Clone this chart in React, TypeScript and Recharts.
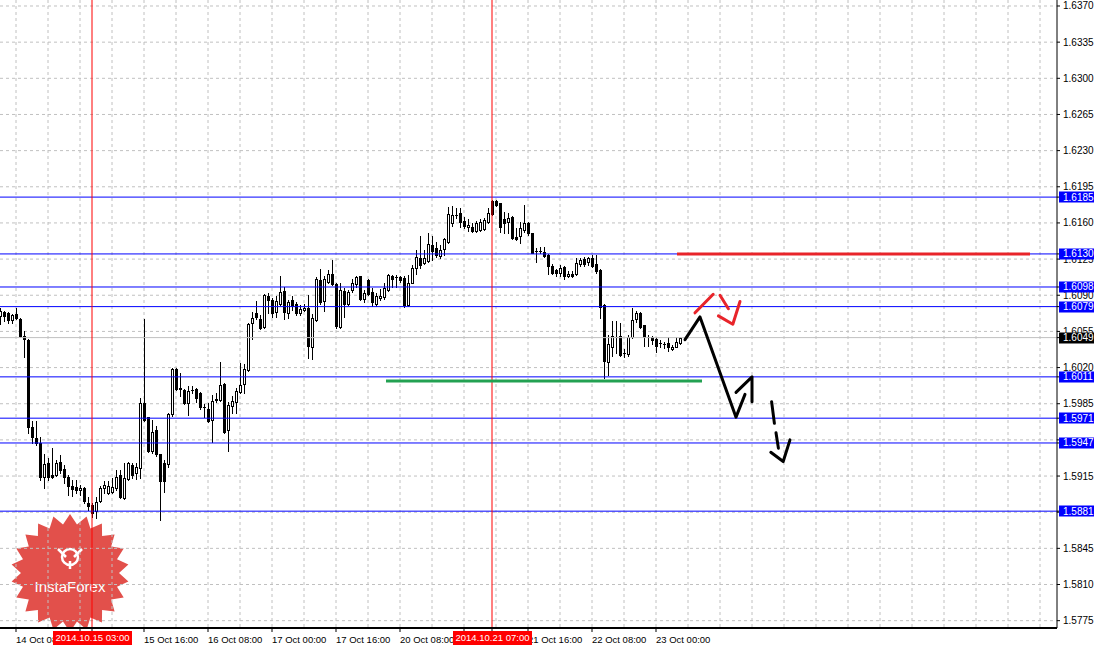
import React from 'react'
import {
  ComposedChart,
  Bar,
  Line,
  XAxis,
  YAxis,
  CartesianGrid,
  ReferenceLine,
} from 'recharts'

// hourly GBP/USD candles, bar index 0 = left edge of the chart
const opens = [
  1.6070, 1.6074, 1.6073, 1.6066, 1.6072, 1.6067, 1.6051, 1.6047, 1.5962, 1.5952,
  1.5947, 1.5914, 1.5928, 1.5916, 1.5916, 1.5929, 1.5922, 1.5914, 1.5905, 1.5904,
  1.5901, 1.5903, 1.5889, 1.5887, 1.5881, 1.5891, 1.5903, 1.5899, 1.5900, 1.5903,
  1.5916, 1.5894, 1.5912, 1.5926, 1.5918, 1.5923, 1.5986, 1.5972, 1.5939, 1.5960,
  1.5936, 1.5928, 1.5927, 1.5975, 1.6019, 1.6000, 1.5998, 1.5986, 1.5998, 1.5999,
  1.5995, 1.5982, 1.5980, 1.5969, 1.5990, 1.5989, 1.6004, 1.5960, 1.5983, 1.5987,
  1.5996, 1.6004, 1.6018, 1.6063, 1.6073, 1.6067, 1.6059, 1.6089, 1.6085, 1.6074,
  1.6082, 1.6094, 1.6073, 1.6085, 1.6082, 1.6073, 1.6076, 1.6078, 1.6040, 1.6066,
  1.6105, 1.6084, 1.6103, 1.6111, 1.6101, 1.6059, 1.6094, 1.6082, 1.6095, 1.6101,
  1.6109, 1.6086, 1.6105, 1.6093, 1.6082, 1.6087, 1.6088, 1.6095, 1.6109, 1.6108,
  1.6108, 1.6107, 1.6081, 1.6102, 1.6116, 1.6126, 1.6121, 1.6123, 1.6139, 1.6136,
  1.6128, 1.6135, 1.6142, 1.6160, 1.6168, 1.6170, 1.6162, 1.6156, 1.6156, 1.6152,
  1.6153, 1.6154, 1.6161, 1.6181, 1.6181, 1.6179, 1.6164, 1.6161, 1.6166, 1.6146,
  1.6147, 1.6153, 1.6160, 1.6150, 1.6133, 1.6133, 1.6132, 1.6129, 1.6118, 1.6114,
  1.6112, 1.6117, 1.6109, 1.6111, 1.6111, 1.6120, 1.6125, 1.6122, 1.6126, 1.6120,
  1.6114, 1.6081, 1.6025, 1.6040, 1.6050, 1.6051, 1.6034, 1.6033, 1.6050, 1.6067,
  1.6073, 1.6061, 1.6050, 1.6050, 1.6048, 1.6044, 1.6043, 1.6044, 1.6038, 1.6040,
  1.6044,
]
const highs = [
  1.6078, 1.6075, 1.6074, 1.6072, 1.6078, 1.6068, 1.6055, 1.6048, 1.5968, 1.5968,
  1.5953, 1.5936, 1.5932, 1.5942, 1.5931, 1.5935, 1.5926, 1.5916, 1.5911, 1.5911,
  1.5906, 1.5904, 1.5895, 1.5889, 1.5895, 1.5905, 1.5910, 1.5910, 1.5913, 1.5921,
  1.5921, 1.5928, 1.5929, 1.5928, 1.5928, 1.5991, 1.6067, 1.5972, 1.5969, 1.5963,
  1.5936, 1.5931, 1.5976, 1.6020, 1.6020, 1.6015, 1.5999, 1.6002, 1.6002, 1.6000,
  1.5996, 1.5985, 1.5986, 1.5993, 1.5995, 1.6025, 1.6005, 1.5987, 1.5992, 1.6000,
  1.6024, 1.6023, 1.6063, 1.6074, 1.6084, 1.6071, 1.6091, 1.6092, 1.6087, 1.6089,
  1.6109, 1.6098, 1.6085, 1.6089, 1.6083, 1.6081, 1.6082, 1.6090, 1.6072, 1.6108,
  1.6115, 1.6109, 1.6114, 1.6124, 1.6102, 1.6102, 1.6097, 1.6095, 1.6106, 1.6109,
  1.6109, 1.6095, 1.6106, 1.6097, 1.6092, 1.6096, 1.6102, 1.6111, 1.6110, 1.6110,
  1.6109, 1.6109, 1.6110, 1.6119, 1.6134, 1.6147, 1.6134, 1.6150, 1.6147, 1.6142,
  1.6139, 1.6145, 1.6175, 1.6176, 1.6174, 1.6174, 1.6166, 1.6164, 1.6160, 1.6162,
  1.6164, 1.6165, 1.6174, 1.6182, 1.6182, 1.6179, 1.6171, 1.6170, 1.6167, 1.6155,
  1.6161, 1.6177, 1.6161, 1.6150, 1.6136, 1.6137, 1.6137, 1.6130, 1.6120, 1.6115,
  1.6119, 1.6118, 1.6113, 1.6113, 1.6126, 1.6126, 1.6127, 1.6127, 1.6129, 1.6129,
  1.6115, 1.6082, 1.6052, 1.6065, 1.6065, 1.6063, 1.6038, 1.6052, 1.6078, 1.6075,
  1.6074, 1.6061, 1.6052, 1.6051, 1.6050, 1.6047, 1.6045, 1.6050, 1.6042, 1.6050,
  1.6050,
]
const lows = [
  1.6062, 1.6065, 1.6063, 1.6063, 1.6067, 1.6050, 1.6030, 1.5957, 1.5947, 1.5945,
  1.5911, 1.5903, 1.5911, 1.5913, 1.5915, 1.5918, 1.5908, 1.5897, 1.5896, 1.5899,
  1.5897, 1.5889, 1.5882, 1.5875, 1.5874, 1.5890, 1.5899, 1.5898, 1.5899, 1.5901,
  1.5894, 1.5893, 1.5911, 1.5913, 1.5912, 1.5913, 1.5968, 1.5938, 1.5937, 1.5934,
  1.5872, 1.5900, 1.5924, 1.5973, 1.5998, 1.5992, 1.5985, 1.5974, 1.5995, 1.5987,
  1.5980, 1.5972, 1.5967, 1.5948, 1.5987, 1.5988, 1.5957, 1.5939, 1.5976, 1.5976,
  1.5995, 1.5995, 1.6017, 1.6048, 1.6067, 1.6057, 1.6058, 1.6073, 1.6069, 1.6069,
  1.6081, 1.6067, 1.6068, 1.6076, 1.6071, 1.6071, 1.6075, 1.6029, 1.6028, 1.6065,
  1.6082, 1.6075, 1.6102, 1.6100, 1.6058, 1.6058, 1.6069, 1.6081, 1.6093, 1.6098,
  1.6085, 1.6083, 1.6090, 1.6080, 1.6080, 1.6085, 1.6086, 1.6094, 1.6098, 1.6098,
  1.6103, 1.6079, 1.6080, 1.6102, 1.6111, 1.6116, 1.6120, 1.6122, 1.6124, 1.6127,
  1.6126, 1.6129, 1.6141, 1.6157, 1.6165, 1.6156, 1.6155, 1.6152, 1.6151, 1.6151,
  1.6152, 1.6153, 1.6160, 1.6168, 1.6176, 1.6151, 1.6150, 1.6150, 1.6144, 1.6143,
  1.6141, 1.6151, 1.6148, 1.6131, 1.6122, 1.6131, 1.6127, 1.6111, 1.6111, 1.6109,
  1.6109, 1.6106, 1.6108, 1.6108, 1.6110, 1.6118, 1.6118, 1.6119, 1.6117, 1.6112,
  1.6068, 1.6010, 1.6013, 1.6031, 1.6034, 1.6031, 1.6030, 1.6031, 1.6049, 1.6064,
  1.6058, 1.6041, 1.6041, 1.6043, 1.6035, 1.6040, 1.6039, 1.6036, 1.6037, 1.6040,
  1.6043,
]
const closes = [
  1.6075, 1.6070, 1.6066, 1.6071, 1.6068, 1.6051, 1.6048, 1.5962, 1.5953, 1.5947,
  1.5914, 1.5927, 1.5914, 1.5914, 1.5928, 1.5921, 1.5914, 1.5905, 1.5902, 1.5901,
  1.5903, 1.5891, 1.5886, 1.5879, 1.5890, 1.5903, 1.5906, 1.5905, 1.5904, 1.5914,
  1.5895, 1.5913, 1.5928, 1.5916, 1.5924, 1.5986, 1.5969, 1.5939, 1.5958, 1.5936,
  1.5910, 1.5910, 1.5975, 1.6019, 1.5999, 1.5999, 1.5986, 1.5997, 1.5998, 1.5991,
  1.5982, 1.5982, 1.5968, 1.5988, 1.5989, 1.6003, 1.5958, 1.5984, 1.5988, 1.5997,
  1.6003, 1.6019, 1.6062, 1.6068, 1.6069, 1.6058, 1.6090, 1.6085, 1.6073, 1.6084,
  1.6093, 1.6074, 1.6083, 1.6080, 1.6073, 1.6077, 1.6078, 1.6041, 1.6068, 1.6106,
  1.6083, 1.6106, 1.6111, 1.6101, 1.6060, 1.6095, 1.6082, 1.6093, 1.6102, 1.6108,
  1.6086, 1.6092, 1.6091, 1.6083, 1.6089, 1.6089, 1.6097, 1.6110, 1.6106, 1.6108,
  1.6105, 1.6081, 1.6102, 1.6116, 1.6127, 1.6119, 1.6126, 1.6140, 1.6133, 1.6129,
  1.6134, 1.6144, 1.6169, 1.6168, 1.6168, 1.6161, 1.6157, 1.6158, 1.6152, 1.6160,
  1.6161, 1.6163, 1.6170, 1.6169, 1.6177, 1.6156, 1.6160, 1.6165, 1.6145, 1.6144,
  1.6155, 1.6160, 1.6150, 1.6131, 1.6133, 1.6133, 1.6128, 1.6118, 1.6112, 1.6112,
  1.6116, 1.6109, 1.6111, 1.6109, 1.6121, 1.6124, 1.6120, 1.6126, 1.6118, 1.6113,
  1.6079, 1.6026, 1.6043, 1.6051, 1.6050, 1.6032, 1.6034, 1.6050, 1.6066, 1.6073,
  1.6059, 1.6050, 1.6050, 1.6047, 1.6041, 1.6044, 1.6043, 1.6040, 1.6040, 1.6045,
  1.6049,
]

const priceTicks = [
  1.5775, 1.581, 1.5845, 1.588, 1.5915, 1.595, 1.5985, 1.602, 1.6055,
  1.609, 1.6125, 1.616, 1.6195, 1.623, 1.6265, 1.63, 1.6335, 1.637,
]
const timeTicks = [4, 20, 36, 52, 68, 84, 100, 116, 132, 148, 164]
const timeLabels = [
  '14 Oct 08:00', '15 Oct 00:00', '15 Oct 16:00', '16 Oct 08:00', '17 Oct 00:00',
  '17 Oct 16:00', '20 Oct 08:00', '21 Oct 00:00', '21 Oct 16:00', '22 Oct 08:00',
  '23 Oct 00:00',
]
const gridBars = Array.from({ length: 33 }, (_, k) => 4 + 8 * k)
const markedBars = [23, 123]
const markedLabels = ['2014.10.15 03:00', '2014.10.21 07:00']
const levels = [1.6185, 1.613, 1.6098, 1.6079, 1.6011, 1.5971, 1.5947, 1.5881]
const lastPrice = 1.6049

// hand-drawn forecast marks (bar index, price)
const blackWave = [
  { i: 171.25, p: 1.6047 }, { i: 175, p: 1.6069 }, { i: 184, p: 1.5972 }, { i: 186.25, p: 1.5994 },
]
const blackHead = [{ i: 184, p: 1.5996 }, { i: 188, p: 1.6011 }, { i: 188, p: 1.5987 }]
const dash1 = [{ i: 192.9, p: 1.5987 }, { i: 193.6, p: 1.5966 }]
const dash2 = [{ i: 194, p: 1.5957 }, { i: 194.6, p: 1.5942 }]
const dashHead = [{ i: 192.7, p: 1.5938 }, { i: 195.8, p: 1.5929 }, { i: 197.5, p: 1.595 }]
const red1 = [{ i: 173.75, p: 1.6073 }, { i: 178.3, p: 1.6091 }]
const red2 = [{ i: 180, p: 1.609 }, { i: 182.1, p: 1.6077 }]
const redHead = [{ i: 179.6, p: 1.607 }, { i: 183.2, p: 1.6062 }, { i: 185, p: 1.6084 }]
const resistance = { from: 169.25, to: 257.5, price: 1.613 }
const support = { from: 96.5, to: 175.5, price: 1.6007 }

const data = opens.map((o, k) => ({
  i: k,
  open: o,
  close: closes[k],
  range: [lows[k], highs[k]],
}))

const tags = [...levels, lastPrice]
// tags come last so they are painted over the plain price labels
const yAxisTicks = [...priceTicks, ...tags]
const xAxisTicks = [...timeTicks, ...markedBars]

const FONT = '"Liberation Sans", Arial, sans-serif'

function Candle(props: any) {
  const { x, y, width, height, payload } = props
  if (!payload) return null
  const [lo, hi] = payload.range
  const top = Math.min(y, y + height)
  const h = Math.abs(height)
  const k = hi > lo ? h / (hi - lo) : 0
  const py = (v: number) => top + (hi - v) * k
  const cx = Math.round(x + width / 2) + 0.5
  const bull = payload.close > payload.open
  const yTop = Math.round(py(Math.max(payload.open, payload.close)))
  const yBot = Math.round(py(Math.min(payload.open, payload.close)))
  return (
    <g>
      <line x1={cx} x2={cx} y1={Math.round(top)} y2={Math.round(top + h) + 1} stroke="#000" />
      {yBot - yTop < 1 ? (
        <line x1={cx - 1.5} x2={cx + 1.5} y1={yTop + 0.5} y2={yTop + 0.5} stroke="#000" />
      ) : (
        <rect
          x={cx - 1}
          y={yTop + 0.5}
          width={2}
          height={yBot - yTop}
          fill={bull ? '#fff' : '#000'}
          stroke="#000"
        />
      )}
    </g>
  )
}

function TimeTick({ x, y, payload }: any) {
  const v = payload.value
  const m = markedBars.indexOf(v)
  if (m >= 0 && xAxisTicks.indexOf(v) >= timeTicks.length) {
    return (
      <g>
        <rect x={x - 39} y={y - 5} width={79} height={14} fill="#ff0000" />
        <text x={x + 0.5} y={y + 2} dy="0.35em" textAnchor="middle" fontSize={9.5} fontFamily={FONT} fill="#fff">
          {markedLabels[m]}
        </text>
      </g>
    )
  }
  // labels that sit fully under a red time tag are not visible
  if (markedBars.some((b) => Math.abs(b - v) < 8)) return null
  return (
    <text x={x} y={y} dy="0.71em" fontSize={9.5} fontFamily={FONT} fill="#000">
      {timeLabels[timeTicks.indexOf(v)]}
    </text>
  )
}

function PriceTick({ x, y, payload, index }: any) {
  const v = payload.value
  if (index >= priceTicks.length) {
    const fill = v === lastPrice ? '#000' : '#0000ff'
    return (
      <g>
        <rect x={x - 4} y={Math.round(y) - 5.5} width={35} height={11} fill={fill} />
        <text x={x} y={y} dy="0.35em" fontSize={10} fontFamily={FONT} fill="#fff">
          {v.toFixed(4)}
        </text>
      </g>
    )
  }
  // labels that sit fully under a price tag are not visible
  if (tags.some((t) => Math.abs(t - v) < 0.0004)) return null
  return (
    <text x={x} y={y} dy="0.35em" fontSize={10} fontFamily={FONT} fill="#000">
      {v.toFixed(4)}
    </text>
  )
}

function Logo() {
  const cx = 70
  const cy = 573
  const pts: string[] = []
  const n = 22
  for (let k = 0; k < n * 2; k++) {
    const r = k % 2 === 0 ? 59 : 49
    const a = (Math.PI * k) / n - Math.PI / 2
    pts.push(`${(cx + r * Math.cos(a)).toFixed(1)},${(cy + r * Math.sin(a)).toFixed(1)}`)
  }
  return (
    <svg width={1099} height={646} style={{ position: 'absolute', left: 0, top: 0 }}>
      <defs>
        <clipPath id="logoClip">
          <rect x={0} y={0} width={1057} height={627} />
        </clipPath>
      </defs>
      <g clipPath="url(#logoClip)">
        <polygon points={pts.join(' ')} fill="#e2504b" />
        <g stroke="#fff" strokeWidth={2.5} fill="none">
          <circle cx={cx} cy={cy - 16} r={8} />
          <path d={`M${cx - 12} ${cy - 24} L${cx - 4} ${cy - 16} M${cx + 12} ${cy - 24} L${cx + 4} ${cy - 16}`} />
          <path d={`M${cx} ${cy - 12} L${cx} ${cy - 4}`} />
        </g>
        <text x={cx} y={cy + 19} textAnchor="middle" fontSize={15} fontFamily={FONT} fill="#fff">
          InstaForex
        </text>
      </g>
    </svg>
  )
}

export default function App() {
  return (
    <div
      style={{
        position: 'absolute',
        left: 0,
        top: 0,
        width: 1099,
        height: 646,
        background: '#fff',
        overflow: 'hidden',
      }}
    >
      <Logo />
      <div style={{ position: 'absolute', left: 0, top: 0 }}>
        <ComposedChart width={1099} height={646} data={data} margin={{ top: 0, right: 0, bottom: 0, left: 0 }}>
          <CartesianGrid
            stroke="#c0c0c0"
            strokeDasharray="3 3"
            verticalValues={gridBars}
            horizontalValues={priceTicks}
          />
          <XAxis
            dataKey="i"
            type="number"
            domain={[0, 264.25]}
            allowDataOverflow
            ticks={xAxisTicks}
            tick={<TimeTick />}
            tickSize={4}
            tickMargin={4}
            height={18}
            axisLine={{ stroke: '#000', strokeWidth: 2 }}
            tickLine={{ stroke: '#000' }}
            interval={0}
          />
          <YAxis
            orientation="right"
            domain={[1.57679, 1.63758]}
            allowDataOverflow
            ticks={yAxisTicks}
            width={42}
            tickSize={3}
            tickMargin={3}
            axisLine={{ stroke: '#000' }}
            tickLine={{ stroke: '#000' }}
            interval={0}
            tick={<PriceTick />}
          />
          <Bar dataKey="range" barSize={3} shape={<Candle />} isAnimationActive={false} />
          <ReferenceLine y={lastPrice} stroke="#c0c0c0" />
          {levels.map((lv) => (
            <ReferenceLine key={lv} y={lv} stroke="#0000ff" />
          ))}
          {markedBars.map((b) => (
            <ReferenceLine key={b} x={b} stroke="#ff0000" />
          ))}
          <ReferenceLine
            segment={[
              { x: resistance.from, y: resistance.price },
              { x: resistance.to, y: resistance.price },
            ]}
            stroke="#e8242a"
            strokeWidth={3}
          />
          <ReferenceLine
            segment={[
              { x: support.from, y: support.price },
              { x: support.to, y: support.price },
            ]}
            stroke="#23a152"
            strokeWidth={3}
          />
          {[blackWave, blackHead, dash1, dash2, dashHead].map((seg, k) => (
            <Line
              key={'b' + k}
              data={seg}
              dataKey="p"
              type="linear"
              stroke="#000"
              strokeWidth={3}
              strokeLinecap="round"
              strokeLinejoin="round"
              dot={false}
              activeDot={false}
              isAnimationActive={false}
            />
          ))}
          {[red1, red2, redHead].map((seg, k) => (
            <Line
              key={'r' + k}
              data={seg}
              dataKey="p"
              type="linear"
              stroke="#e8242a"
              strokeWidth={3}
              strokeLinecap="round"
              strokeLinejoin="round"
              dot={false}
              activeDot={false}
              isAnimationActive={false}
            />
          ))}
        </ComposedChart>
      </div>
    </div>
  )
}
